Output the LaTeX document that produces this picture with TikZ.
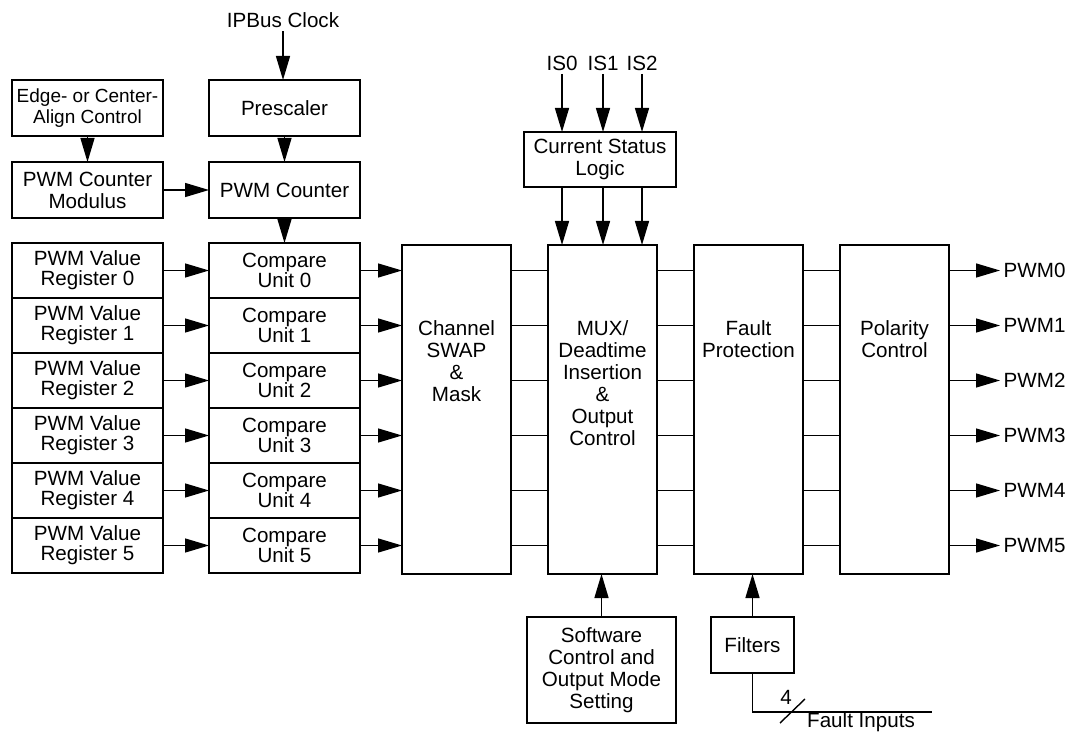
\documentclass[tikz,border=0pt]{standalone}
\usepackage{fontspec}
\setmainfont{Liberation Sans}
\usetikzlibrary{arrows.meta, positioning}

\begin{document}
\begin{tikzpicture}[
    x=0.5pt, y=-0.5pt,
    line width=0.7pt,
    font=\fontsize{10.3}{11}\selectfont,
    node distance=0pt and 18.5pt,
    arr/.style={-{Triangle[length=12pt, width=7pt]}},
    box/.style={rectangle, draw, outer sep=0pt, inner sep=1pt, align=center, minimum width=75.5pt, minimum height=28pt},
    row/.style={box, minimum height=27.5pt, font=\fontsize{10.3}{10}\selectfont},
    blk/.style={rectangle, draw, outer sep=0pt, minimum width=54.5pt, minimum height=164.5pt},
    txt/.style={align=center, inner sep=0pt, anchor=north},
    sig/.style={inner sep=1.5pt},
  ]
  \useasboundingbox (0,0) rectangle (1070,732);

  % counter part
  \node[sig] (clk) at (283,20) {IPBus Clock};
  \node[box, font=\fontsize{9.5}{10.5}\selectfont] (edge) at (87.5,108) {Edge- or Center-\\Align Control};
  \node[box] (presc) at (284.5,108) {Prescaler};
  \node[box] (mod) at (87.5,190) {PWM Counter\\Modulus};
  \node[box] (cnt) at (284.5,190) {PWM Counter};

  % value registers and compare units
  \node[row] (reg0) at (87.5,270.5) {PWM Value\\Register 0};
  \node[row, below=of reg0] (reg1) {PWM Value\\Register 1};
  \node[row, below=of reg1] (reg2) {PWM Value\\Register 2};
  \node[row, below=of reg2] (reg3) {PWM Value\\Register 3};
  \node[row, below=of reg3] (reg4) {PWM Value\\Register 4};
  \node[row, below=of reg4] (reg5) {PWM Value\\Register 5};
  \node[row] (cmp0) at (284.5,270.5) {Compare\\Unit 0};
  \node[row, below=of cmp0] (cmp1) {Compare\\Unit 1};
  \node[row, below=of cmp1] (cmp2) {Compare\\Unit 2};
  \node[row, below=of cmp2] (cmp3) {Compare\\Unit 3};
  \node[row, below=of cmp3] (cmp4) {Compare\\Unit 4};
  \node[row, below=of cmp4] (cmp5) {Compare\\Unit 5};

  % big blocks
  \node[blk] (swap) at (456.5,409.5) {};
  \node[blk, right=of swap] (mux) {};
  \node[blk, right=of mux] (fault) {};
  \node[blk, right=of fault] (pol) {};
  \node[txt] at ([yshift=-37.5pt]swap.north) {Channel\\SWAP\\\&\\Mask};
  \node[txt] at ([yshift=-37.5pt]mux.north) {MUX/\\Deadtime\\Insertion\\\&\\Output\\Control};
  \node[txt] at ([yshift=-37.5pt]fault.north) {Fault\\Protection};
  \node[txt] at ([yshift=-37.5pt]pol.north) {Polarity\\Control};

  % status, software, filters
  \node[box, minimum width=76pt, minimum height=27.5pt] (csl) at (600,159.5) {Current Status\\Logic};
  \node[sig] (is0) at (562,63) {IS0};
  \node[sig] (is1) at (603,63) {IS1};
  \node[sig] (is2) at (642,63) {IS2};
  \node[box, minimum width=74.5pt, minimum height=53pt] (sw) at (601.5,670) {Software\\Control and\\Output Mode\\Setting};
  \node[box, minimum width=41.5pt] (filt) at (752.5,645) {Filters};
  \coordinate (bus) at (792,712);
  \coordinate (fend) at (932,712);
  \node[sig] (nb) at (786,697) {4};
  \node[sig] (fin) at (861,722) {Fault Inputs};

  \draw[arr] (clk) -- (clk |- presc.north);
  \draw[arr] (presc) -- (cnt);
  \draw[arr] (edge) -- (mod);
  \draw[arr] (mod) -- (cnt);
  \draw[arr] (cnt) -- (cmp0);
  \foreach \s in {is0, is1, is2} {
    \draw[arr] (\s) -- (\s |- csl.north);
    \draw[arr] (\s |- csl.south) -- (\s |- mux.north);
  }
  \foreach \i in {0,...,5} {
    \draw[arr] (reg\i) -- (cmp\i);
    \draw[arr] (cmp\i) -- (cmp\i -| swap.west);
    \draw (swap.east |- cmp\i) -- (mux.west |- cmp\i)
          (mux.east |- cmp\i) -- (fault.west |- cmp\i)
          (fault.east |- cmp\i) -- (pol.west |- cmp\i);
    \node[sig, anchor=west] (pwm\i) at (1000,270.5+55*\i) {PWM\i};
    \draw[arr] (pol.east |- pwm\i) -- (pwm\i);
  }
  \draw[arr] (sw.north) -- (sw.north |- mux.south);
  \draw[arr] (filt.north) -- (filt.north |- fault.south);
  \draw (filt) |- (fend);
  \draw (bus) ++(-12,11) -- ++(25,-24);
\end{tikzpicture}
\end{document}
